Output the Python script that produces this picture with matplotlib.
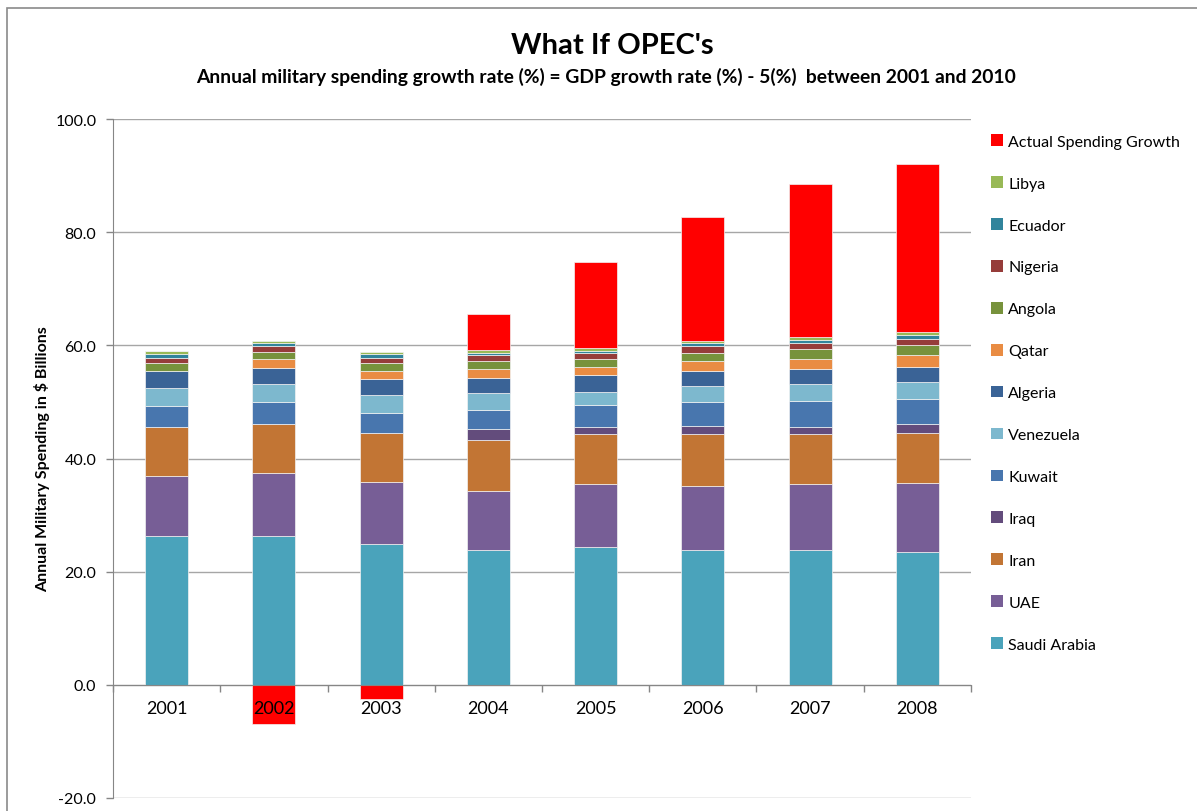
import numpy as np
import matplotlib
matplotlib.use("Agg")
import matplotlib.pyplot as plt
from matplotlib.patches import Rectangle, Patch

plt.rcParams['font.family'] = ['Lato', 'DejaVu Sans']

years = ['2001', '2002', '2003', '2004', '2005', '2006', '2007', '2008']

saudi_arabia = [26.3, 26.3, 24.9, 23.8, 24.4, 23.8, 23.8, 23.45]
uae = [10.6, 11.2, 11.0, 10.5, 11.1, 11.4, 11.7, 12.15]
iran = [8.6, 8.6, 8.6, 8.9, 8.8, 9.1, 8.8, 8.9]
iraq = [0.0, 0.0, 0.0, 2.0, 1.2, 1.4, 1.3, 1.6]
kuwait = [3.7, 3.85, 3.6, 3.4, 3.9, 4.2, 4.5, 4.4]
venezuela = [3.3, 3.25, 3.2, 2.9, 2.4, 2.9, 3.0, 3.0]
algeria = [3.0, 2.85, 2.7, 2.7, 2.9, 2.7, 2.8, 2.7]
qatar = [0.0, 1.45, 1.5, 1.7, 1.5, 1.7, 1.75, 2.05]
angola = [1.3, 1.3, 1.3, 1.3, 1.3, 1.4, 1.75, 1.85]
nigeria = [1.0, 1.1, 1.0, 1.05, 1.1, 1.3, 1.1, 1.1]
ecuador = [0.6, 0.6, 0.6, 0.45, 0.45, 0.6, 0.5, 0.7]
libya = [0.55, 0.3, 0.4, 0.5, 0.45, 0.3, 0.4, 0.4]
actual_growth = [0.0, -6.9, -2.5, 6.3, 15.3, 21.95, 27.1, 29.7]

series_names = ['Saudi Arabia', 'UAE', 'Iran', 'Iraq', 'Kuwait', 'Venezuela', 'Algeria',
                'Qatar', 'Angola', 'Nigeria', 'Ecuador', 'Libya', 'Actual Spending Growth']
series_values = [saudi_arabia, uae, iran, iraq, kuwait, venezuela, algeria,
                 qatar, angola, nigeria, ecuador, libya, actual_growth]
colors = ['#4AA3BB', '#775E96', '#C27534', '#634C7C', '#4876AE', '#7DB8CE', '#3A6396',
          '#E98C43', '#77923C', '#963C3A', '#31849C', '#98B956', '#FF0000']

fig = plt.figure(figsize=(11.97, 8.12), dpi=100)
ax = fig.add_axes([113/1197, 1 - 799/812, (971-113)/1197, (799-120)/812])

x = np.arange(len(years))
cum = np.zeros(len(years))
for name, vals, col in zip(series_names, series_values, colors):
    v = np.array(vals, dtype=float)
    bottom = np.where(v >= 0, cum, 0.0)
    ax.bar(x, v, width=0.4, bottom=bottom, color=col, edgecolor='#F2F2F2',
           linewidth=0.5, label=name, zorder=2)
    cum = cum + np.where(v >= 0, v, 0.0)

ax.set_xlim(-0.5, len(years) - 0.5)
ax.set_ylim(-20, 100)
ax.set_yticks(np.arange(-20, 101, 20))
ax.set_yticklabels([f'{t:.1f}' for t in np.arange(-20, 101, 20)])
ax.yaxis.grid(True, color='#A6A6A6', linewidth=1.0)
ax.yaxis.set_zorder(0.5)
ax.xaxis.set_zorder(5)

ax.set_xticks(np.arange(-0.5, len(years), 1.0))
ax.set_xticklabels([''] * (len(years) + 1))
ax.set_xticks(x, minor=True)
ax.set_xticklabels(years, minor=True)
ax.tick_params(axis='x', which='major', direction='out', length=5, color='#868686', width=1)
ax.tick_params(axis='x', which='minor', length=0, pad=11, labelsize=13)
ax.tick_params(axis='y', direction='out', length=5, color='#868686', width=1, pad=7,
               labelsize=11.5)

for s in ['top', 'right']:
    ax.spines[s].set_visible(False)
ax.spines['bottom'].set_position(('data', 0))
ax.spines['bottom'].set_color('#868686')
ax.spines['left'].set_color('#868686')

ax.set_ylabel('Annual Military Spending in $ Billions', fontsize=11.5, fontweight='bold')
ax.yaxis.set_label_coords(-0.073, 0.5)

handles, labels = ax.get_legend_handles_labels()
handles = [Patch(facecolor=h.patches[0].get_facecolor(), edgecolor='none') for h in handles]
leg = fig.legend(handles[::-1], labels[::-1], loc='upper left',
                 bbox_to_anchor=(985/1197, 1 - 129/812), frameon=False,
                 fontsize=11.5, handlelength=0.75, handleheight=0.75,
                 handletextpad=0.3, labelspacing=1.72, borderaxespad=0)

fig.text(612/1197, 1 - 46/812, "What If OPEC's", ha='center', va='center',
         fontsize=21, fontweight='bold')
fig.text(606/1197, 1 - 77/812,
         "Annual military spending growth rate (%) = GDP growth rate (%) - 5(%)  between 2001 and 2010",
         ha='center', va='center', fontsize=13.9, fontweight='bold')

fig.patches.append(Rectangle((7/1197, -0.05), 1.1, 1 - 9/812 + 0.05, transform=fig.transFigure,
                             fill=False, edgecolor='#8A8A8A', linewidth=1.2))

fig.savefig('out.png', dpi=100)
